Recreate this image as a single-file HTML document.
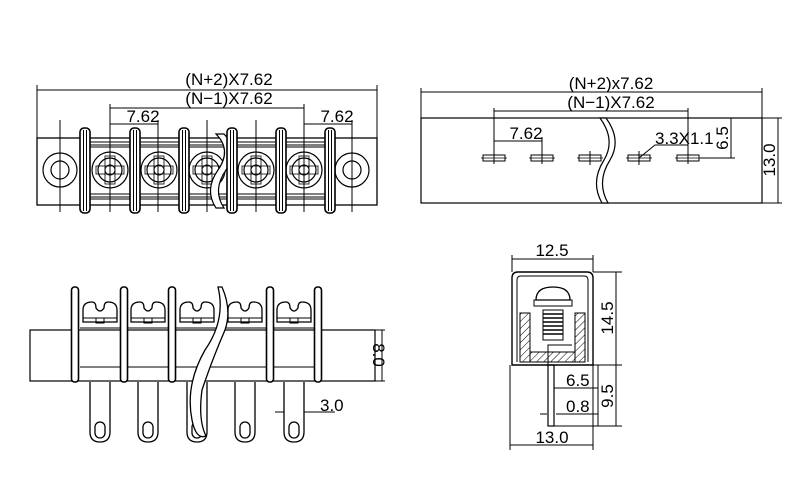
<!DOCTYPE html>
<html><head><meta charset="utf-8"><style>
html,body{margin:0;padding:0;background:#fff;}
svg{display:block;}
text{font-family:"Liberation Sans",sans-serif;font-size:17px;fill:#000;}
</style></head><body>
<svg width="800" height="503" viewBox="0 0 800 503" xmlns="http://www.w3.org/2000/svg">
<defs>
<pattern id="h" width="5" height="5" patternUnits="userSpaceOnUse" patternTransform="rotate(45)">
<line x1="0" y1="0" x2="0" y2="5" stroke="#000" stroke-width="1"/></pattern>
<g id="term">
<rect x="-22" y="-25" width="44" height="52" fill="none" stroke="#000" stroke-width="1"/>
<circle r="18" fill="none" stroke="#000" stroke-width="1.2"/>
<circle r="12" fill="none" stroke="#000" stroke-width="1.2"/>
<circle r="5" fill="none" stroke="#000" stroke-width="1"/>
<rect x="-5" y="-14" width="10" height="28" fill="none" stroke="#000" stroke-width="0.8"/>
<rect x="-14" y="-4" width="28" height="8" fill="none" stroke="#000" stroke-width="0.8"/>
</g>
<g id="bar">
<rect x="-5" y="128" width="10" height="85" rx="4" fill="#fff" stroke="#000" stroke-width="1.6"/>
<line x1="-1.5" y1="130" x2="-1.5" y2="211" stroke="#000" stroke-width="1"/>
<line x1="1.5" y1="130" x2="1.5" y2="211" stroke="#000" stroke-width="1"/>
</g>
<g id="screw">
<path d="M-17 322 L-17 310 Q-17 302 -8 302 Q-4 302 -4 308 Q0 314 4 308 Q4 302 8 302 Q17 302 17 310 L17 322 Z" fill="#fff" stroke="#000" stroke-width="1.3"/>
<line x1="-17" y1="318" x2="17" y2="318" stroke="#000" stroke-width="1"/>
<rect x="-4" y="318" width="8" height="5" fill="none" stroke="#000" stroke-width="1"/>
</g>
<g id="pin">
<path d="M-10 382 L-10 432 Q-10 442 0 442 Q10 442 10 432 L10 382" fill="#fff" stroke="#000" stroke-width="1.3"/>
<rect x="-5" y="422" width="10" height="16" rx="5" fill="none" stroke="#000" stroke-width="1.3"/>
</g>
<g id="tbar">
<rect x="-3.5" y="287" width="7" height="95" rx="3" fill="#fff" stroke="#000" stroke-width="1.6"/>
</g>
<g id="slot">
<rect x="-11" y="155" width="22" height="6" fill="none" stroke="#000" stroke-width="1"/>
<line x1="-13" y1="158" x2="13" y2="158" stroke="#000" stroke-width="0.8"/>
</g>
</defs>
<g stroke="#000" fill="none" stroke-width="1">
<!-- TOP LEFT -->
<line x1="37" y1="90" x2="377" y2="90"/>
<line x1="37" y1="85" x2="37" y2="138"/><line x1="377" y1="85" x2="377" y2="138"/>
<line x1="110" y1="108" x2="304" y2="108"/>
<line x1="110" y1="104" x2="110" y2="212"/><line x1="304" y1="104" x2="304" y2="212"/>
<line x1="110" y1="124" x2="158" y2="124"/><line x1="158" y1="120" x2="158" y2="212"/>
<line x1="304" y1="124" x2="352" y2="124"/><line x1="352" y1="120" x2="352" y2="212"/>
<line x1="60" y1="120" x2="60" y2="212"/><line x1="207" y1="120" x2="207" y2="212"/><line x1="256" y1="120" x2="256" y2="212"/>
<rect x="37" y="138" width="340" height="67" stroke-width="1.3"/>
<line x1="85" y1="142" x2="330" y2="142"/><line x1="85" y1="147" x2="330" y2="147"/>
<line x1="85" y1="194" x2="330" y2="194"/><line x1="85" y1="199" x2="330" y2="199"/>
<circle cx="60" cy="170" r="17" stroke-width="1.2"/><circle cx="60" cy="170" r="9" stroke-width="1.2"/>
<circle cx="352" cy="170" r="17" stroke-width="1.2"/><circle cx="352" cy="170" r="9" stroke-width="1.2"/>
<use href="#term" x="110" y="170"/><use href="#term" x="159" y="170"/><use href="#term" x="207" y="170"/><use href="#term" x="256" y="170"/><use href="#term" x="304" y="170"/>
<path d="M216 134 Q232 150 218 170 Q204 190 216 208 L224 208 Q212 190 226 170 Q240 150 224 134 Z" fill="#fff" stroke-width="1.2"/>
<use href="#bar" x="85"/><use href="#bar" x="135"/><use href="#bar" x="184"/><use href="#bar" x="232"/><use href="#bar" x="281"/><use href="#bar" x="330"/>

<!-- TOP RIGHT -->
<line x1="421" y1="92" x2="762" y2="92"/>
<line x1="421" y1="88" x2="421" y2="118"/><line x1="762" y1="88" x2="762" y2="118"/>
<line x1="494" y1="111" x2="688" y2="111"/>
<line x1="494" y1="108" x2="494" y2="164"/><line x1="688" y1="108" x2="688" y2="164"/>
<line x1="494" y1="141" x2="542" y2="141"/><line x1="542" y1="137" x2="542" y2="164"/>
<rect x="421" y="118" width="341" height="85" stroke-width="1.2"/>
<use href="#slot" x="494"/><use href="#slot" x="542"/><use href="#slot" x="590"/><use href="#slot" x="639"/><use href="#slot" x="688"/>
<line x1="590" y1="151" x2="590" y2="165"/><line x1="639" y1="151" x2="639" y2="165"/>
<path d="M600 118 Q616 140 604 160 Q590 182 602 203 L608 203 Q596 182 610 160 Q622 140 606 118 Z" fill="#fff" stroke-width="1.2"/>
<polyline points="639,158 655,145 688,145"/>
<line x1="700" y1="158" x2="735" y2="158"/><line x1="731" y1="118" x2="731" y2="158"/>
<line x1="762" y1="118" x2="782" y2="118"/><line x1="762" y1="203" x2="782" y2="203"/><line x1="778" y1="118" x2="778" y2="203"/>

<!-- BOTTOM LEFT -->
<rect x="30" y="330" width="345" height="51" stroke-width="1.2"/>
<line x1="80" y1="328" x2="318" y2="328"/>
<line x1="80" y1="367" x2="318" y2="367"/>
<use href="#screw" x="100"/><use href="#screw" x="148"/><use href="#screw" x="197"/><use href="#screw" x="245"/><use href="#screw" x="294"/>
<use href="#pin" x="100"/><use href="#pin" x="148"/><use href="#pin" x="197"/><use href="#pin" x="245"/><use href="#pin" x="294"/>
<use href="#tbar" x="75"/><use href="#tbar" x="124"/><use href="#tbar" x="172"/><use href="#tbar" x="270"/><use href="#tbar" x="318"/>
<path d="M218 287 Q226 320 205 350 Q185 385 192 420 Q196 440 206 436 Q198 420 202 390 Q212 360 225 330 Q232 310 222 287 Z" fill="#fff" stroke-width="1.3"/>
<line x1="375" y1="330" x2="385" y2="330"/><line x1="375" y1="381" x2="385" y2="381"/><line x1="382" y1="330" x2="382" y2="381"/>
<line x1="275" y1="412" x2="284" y2="412"/><line x1="304" y1="412" x2="335" y2="412"/>

<!-- BOTTOM RIGHT -->
<line x1="512" y1="259" x2="593" y2="259"/>
<line x1="512" y1="255" x2="512" y2="272"/><line x1="593" y1="255" x2="593" y2="272"/>
<path d="M512 365 L512 278 Q512 272 518 272 L587 272 Q593 272 593 278 L593 365 Z" stroke-width="1.4"/>
<path d="M517 362 L517 280 Q517 276 521 276 L584 276 Q588 276 588 280 L588 362"/>
<rect x="520" y="313" width="10" height="49" fill="url(#h)"/>
<rect x="575" y="313" width="10" height="49" fill="url(#h)"/>
<rect x="530" y="352" width="45" height="10" fill="url(#h)"/>
<path d="M536 300 Q536 287 553 287 Q570 287 570 300 Z" fill="#fff" stroke-width="1.3"/>
<line x1="536" y1="300" x2="570" y2="300"/><rect x="534" y="300" width="38" height="6"/>
<rect x="543" y="310" width="20" height="30"/>
<path d="M543 314 h20 M543 318 h20 M543 322 h20 M543 326 h20 M543 330 h20 M543 334 h20" stroke-width="1.5"/>
<polyline points="548,365 548,345 572,345"/>
<rect x="548" y="365" width="6" height="61" stroke-width="1.2"/>
<line x1="593" y1="272" x2="622" y2="272"/><line x1="593" y1="365" x2="622" y2="365"/><line x1="554" y1="426" x2="622" y2="426"/>
<line x1="616" y1="272" x2="616" y2="426"/>
<line x1="554" y1="388" x2="598" y2="388"/><line x1="598" y1="365" x2="598" y2="426"/>
<line x1="540" y1="414" x2="547" y2="414"/><line x1="556" y1="414" x2="598" y2="414"/>
<line x1="510" y1="365" x2="510" y2="450"/><line x1="593" y1="365" x2="593" y2="450"/>
<line x1="510" y1="445" x2="593" y2="445"/>
</g>
<text x="229" y="85" text-anchor="middle">(N+2)X7.62</text>
<text x="229" y="104" text-anchor="middle">(N−1)X7.62</text>
<text x="143" y="122" text-anchor="middle">7.62</text>
<text x="337" y="122" text-anchor="middle">7.62</text>
<text x="611" y="89" text-anchor="middle">(N+2)x7.62</text>
<text x="611" y="108" text-anchor="middle">(N−1)X7.62</text>
<text x="526" y="139" text-anchor="middle">7.62</text>
<text x="655" y="144">3.3X1.1</text>
<text transform="translate(728,138) rotate(-90)" text-anchor="middle">6.5</text>
<text transform="translate(775,160) rotate(-90)" text-anchor="middle">13.0</text>
<text transform="translate(373,355) rotate(90)" text-anchor="middle">8.0</text>
<text x="320" y="411">3.0</text>
<text x="552" y="256" text-anchor="middle">12.5</text>
<text transform="translate(613,318) rotate(-90)" text-anchor="middle">14.5</text>
<text transform="translate(613,396) rotate(-90)" text-anchor="middle">9.5</text>
<text x="566" y="386">6.5</text>
<text x="566" y="412">0.8</text>
<text x="552" y="443" text-anchor="middle">13.0</text>
</svg>
</body></html>
